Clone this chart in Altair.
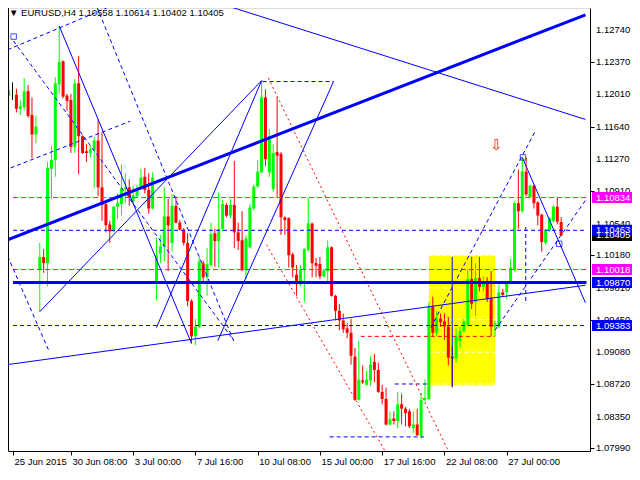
import altair as alt
import pandas as pd

# ---- candle data (EURUSD H4), bar index 0 = 25 Jun 2015 16:00 ----
O = [1.1199,1.1206,1.1200,1.1184,1.1186,1.1204,1.1177,1.1155,1.1002,1.1016,
     1.1009,1.1116,1.1126,1.1212,1.1238,1.1199,1.1194,1.1141,1.1213,1.1153,
     1.1136,1.1134,1.1137,1.1148,1.1095,1.1076,1.1053,1.1045,1.1073,1.1076,
     1.1093,1.1095,1.1079,1.1085,1.1094,1.1107,1.1092,1.1071,1.0988,1.1020,
     1.1028,1.1062,1.1032,1.1074,1.1055,1.1047,1.1032,1.0966,1.0926,1.0937,
     1.1009,1.0993,1.1007,1.1043,1.1034,1.1048,1.1075,1.1063,1.1075,1.1044,
     1.1035,1.1001,1.1027,1.1071,1.1096,1.1112,1.1197,1.1112,1.1093,1.1135,
     1.1133,1.1061,1.1060,1.1019,1.0996,1.0985,1.1002,1.1024,1.1054,1.1009,
     1.1008,1.0994,1.1000,1.1027,1.0972,1.0955,1.0944,1.0935,1.0930,1.0903,
     1.0854,1.0876,1.0871,1.0876,1.0897,1.0888,1.0863,1.0855,1.0826,1.0833,
     1.0830,1.0849,1.0844,1.0841,1.0822,1.0826,1.0813,1.0854,1.0855,1.0960,
     1.0930,1.0946,1.0943,1.0937,1.0903,1.0901,1.0921,1.0932,1.0939,1.0991,
     1.0965,1.0992,1.0982,1.0988,1.0970,1.0937,1.0937,1.0976,1.0976,1.0987,
     1.1001,1.1077,1.1068,1.1113,1.1084,1.1097,1.1078,1.1064,1.1032,1.1046,
     1.1057,1.1073,1.10558]
H = [1.1217,1.1214,1.1207,1.1194,1.1219,1.1211,1.1197,1.1176,1.1032,1.1025,
     1.1124,1.1142,1.1220,1.1278,1.1239,1.1201,1.1201,1.1218,1.1244,1.1154,
     1.1144,1.1142,1.1152,1.1172,1.1157,1.1077,1.1057,1.1074,1.1088,1.1121,
     1.1111,1.1104,1.1097,1.1098,1.1116,1.1117,1.1111,1.1112,1.1038,1.1041,
     1.1095,1.1082,1.1087,1.1085,1.1058,1.1049,1.1043,1.0968,1.0946,1.1016,
     1.1012,1.1026,1.1055,1.1048,1.1089,1.1081,1.1077,1.1082,1.1125,1.1055,
     1.1068,1.1041,1.1076,1.1098,1.1126,1.1216,1.1206,1.1161,1.1144,1.1197,
     1.1135,1.1062,1.1061,1.1021,1.1007,1.1007,1.1026,1.1083,1.1055,1.1015,
     1.1016,1.1003,1.1035,1.1028,1.0973,1.0963,1.0952,1.0941,1.0946,1.0913,
     1.0921,1.0893,1.0887,1.0903,1.0906,1.0896,1.0871,1.0868,1.0841,1.0841,
     1.0863,1.0861,1.0846,1.0844,1.0841,1.0844,1.0861,1.0877,1.0965,1.0971,
     1.0955,1.0952,1.0952,1.0948,1.0915,1.0935,1.0937,1.0946,1.1002,1.1016,
     1.1009,1.1016,1.0994,1.0993,1.1000,1.0944,1.0985,1.0980,1.0988,1.1014,
     1.1079,1.1115,1.1129,1.1129,1.1098,1.1098,1.1079,1.1065,1.1048,1.1061,
     1.1075,1.1083,1.10614]
L = [1.1177,1.1194,1.1180,1.1177,1.1182,1.1174,1.1128,1.1145,1.0954,1.0998,
     1.0983,1.1082,1.1107,1.1201,1.1196,1.1182,1.1134,1.1134,1.1110,1.1133,
     1.1124,1.1129,1.1094,1.1085,1.1057,1.1044,1.1032,1.1044,1.1059,1.1063,
     1.1077,1.1074,1.1076,1.1083,1.1093,1.1088,1.1065,1.1070,1.0967,1.1009,
     1.1011,1.1000,1.1022,1.1054,1.1046,1.1029,1.0960,1.0918,1.0916,1.0935,
     1.0988,1.0972,1.1005,1.1005,1.1004,1.1045,1.1061,1.1060,1.1026,1.1024,
     1.1000,1.0991,1.1026,1.1069,1.1095,1.1111,1.1119,1.1107,1.1090,1.1083,
     1.1041,1.1041,1.1004,1.0993,1.0972,1.0983,1.0965,1.1022,1.0993,1.0993,
     1.0991,1.0993,1.0987,1.0971,1.0944,1.0933,1.0930,1.0924,1.0894,1.0853,
     1.0853,1.0872,1.0870,1.0870,1.0874,1.0862,1.0849,1.0825,1.0825,1.0826,
     1.0822,1.0826,1.0824,1.0822,1.0816,1.0813,1.0810,1.0852,1.0854,1.0926,
     1.0926,1.0937,1.0922,1.0893,1.0868,1.0896,1.0913,1.0930,1.0937,1.0957,
     1.0949,1.0977,1.0977,1.0965,1.0926,1.0926,1.0935,1.0971,1.0968,1.0985,
     1.1000,1.1048,1.1066,1.1085,1.1083,1.1071,1.1052,1.1022,1.1030,1.1044,
     1.1055,1.1053,1.10402]
C = [1.1205,1.1206,1.1184,1.1187,1.1204,1.1176,1.1155,1.1164,1.1016,1.1009,
     1.1117,1.1126,1.1213,1.1237,1.1198,1.1193,1.1141,1.1213,1.1153,1.1134,
     1.1134,1.1138,1.1148,1.1095,1.1075,1.1052,1.1045,1.1073,1.1077,1.1094,
     1.1095,1.1083,1.1086,1.1094,1.1106,1.1092,1.1071,1.1106,1.1018,1.1028,
     1.1062,1.1052,1.1074,1.1055,1.1047,1.1032,1.0966,1.0926,1.0937,1.1011,
     1.0993,1.1008,1.1042,1.1034,1.1048,1.1076,1.1063,1.1075,1.1044,1.1034,
     1.1001,1.1037,1.1072,1.1096,1.1113,1.1197,1.1127,1.1153,1.1134,1.1131,
     1.1061,1.1058,1.1018,1.1004,1.0985,1.1002,1.1025,1.1054,1.1009,1.1006,
     1.0994,1.1001,1.1027,1.0972,1.0955,1.0944,1.0934,1.0930,1.0904,1.0854,
     1.0877,1.0874,1.0877,1.0894,1.0888,1.0863,1.0855,1.0826,1.0832,1.0830,
     1.0849,1.0844,1.0839,1.0824,1.0826,1.0814,1.0854,1.0856,1.0960,1.0930,
     1.0946,1.0942,1.0937,1.0902,1.0901,1.0926,1.0932,1.0943,1.0991,1.0963,
     1.0992,1.0982,1.0988,1.0968,1.0937,1.0941,1.0976,1.0973,1.0987,1.1004,
     1.1077,1.1068,1.1113,1.1087,1.1097,1.1077,1.1063,1.1033,1.1047,1.1060,
     1.1073,1.1056,1.10405]

tick_bars = [1.125, 16, 32, 48, 64, 80, 96, 112, 128]
tick_labels = ["25 Jun 2015", "30 Jun 08:00", "3 Jul 00:00", "7 Jul 16:00",
               "10 Jul 08:00", "15 Jul 00:00", "17 Jul 16:00", "22 Jul 08:00",
               "27 Jul 00:00"]
price_ticks = [1.12740, 1.12370, 1.12010, 1.11640, 1.11270, 1.10910, 1.10540,
               1.10180, 1.09810, 1.09450, 1.09080, 1.08720, 1.08350, 1.07990]

# price tags on the right scale
tag_prices = [1.10834, 1.10018, 1.09870, 1.09383, 1.10405, 1.10463]
tag_colors = ["#ff00ff", "#ff00ff", "#0000ff", "#0000ff", "#000000", "#0000ff"]

# drawn objects: (kind, bar1, price1, bar2, price2)
segments = [
    ("thick", -0.25, 1.10356, 148.25, 1.12907),
    ("thick", 1.125, 1.09870, 148.5, 1.09870),
    ("thin", 8, 1.0954, 65, 1.1216),
    ("thin", 13, 1.1278, 47, 1.0918),
    ("thin", 38, 1.0936, 65, 1.1216),
    ("thin", 53.75, 1.0921, 83.5, 1.1215),
    ("thin", -0.25, 1.0894, 148.25, 1.0984),
    ("thin", 52.5, 1.1306, 148.25, 1.1172),
    ("thin", 132, 1.1129, 148.25, 1.0964),
    ("thin", 114, 1.1016, 114, 1.0869),
    ("dash", 1.125, 1.10463, 148.5, 1.10463),
    ("dash", 1.125, 1.09383, 148.5, 1.09383),
    ("dash", 65.25, 1.1215, 83.5, 1.1215),
    ("dash", -0.25, 1.1251, 29.75, 1.1307),
    ("dash", 22, 1.1307, 58, 1.0919),
    ("dash", 0.5, 1.1117, 31.25, 1.1170),
    ("dash", -0.25, 1.1017, 10.5, 1.0908),
    ("dash", 1.25, 1.1261, 57.25, 1.0925),
    ("dash", 108.5, 1.0936, 135.5, 1.1160),
    ("dash", 125, 1.0933, 148.5, 1.1082),
    ("dash", 132.9, 1.1050, 132.9, 1.0964),
    ("dash", 82.5, 1.0812, 106.75, 1.0812),
    ("dash", 99.25, 1.0872, 108, 1.0872),
    ("magenta", 1.125, 1.10834, 148.5, 1.10834),
    ("magenta", 1.125, 1.10018, 148.5, 1.10018),
    ("reddot", 66.75, 1.1219, 113, 1.0796),
    ("reddot", 66.25, 1.1030, 96.75, 1.0796),
    ("reddash", 90.5, 1.0926, 125, 1.0926),
    ("white", 108, 1.1018, 125, 1.1018),
    ("white", 108, 1.0981, 125, 1.0981),
    ("white", 108, 1.0945, 125, 1.0945),
    ("white", 108, 1.0908, 125, 1.0908),
    ("white", 108, 1.0872, 125, 1.0872),
]
zone = [(108, 1.10179, 125, 1.08703)]
markers = [(1.3, 1.1266), (132.2, 1.1129), (141.5, 1.1031)]
sell_arrow = [(125.4, 1.1143)]

FONT = "Liberation Sans"
FS = 9.5
W, HGT = 582, 443

df = pd.DataFrame({"bar": list(range(len(O))), "o": O, "h": H, "l": L, "c": C})
df["dir"] = ["up" if c > o else ("down" if c < o else "doji") for o, c in zip(O, C)]
seg = pd.DataFrame(segments, columns=["kind", "x1", "y1", "x2", "y2"])
zdf = pd.DataFrame(zone, columns=["x1", "y1", "x2", "y2"])
mdf = pd.DataFrame(markers, columns=["x", "y"])
adf = pd.DataFrame(sell_arrow, columns=["x", "y"])
tdf = pd.DataFrame({"p": tag_prices, "col": tag_colors,
                    "txt": [f"{p:.5f}" for p in tag_prices]})
tdf["order"] = list(range(len(tdf)))
pdf = pd.DataFrame({"p": price_ticks, "txt": [f"{p:.5f}" for p in price_ticks]})

xs = alt.Scale(domain=[1.125, 148.125], nice=False, zero=False)
ys = alt.Scale(domain=[1.07960, 1.12984], nice=False, zero=False)

label_expr = "[" + ",".join(f"'{t}'" for t in tick_labels) + "][round(datum.value/16)]"
x_axis = alt.Axis(values=tick_bars, labelExpr=label_expr, title=None, grid=False,
                  orient="bottom", tickSize=4, tickColor="black", domainColor="black",
                  labelAlign="left", labelBaseline="top", labelPadding=1, labelOffset=1,
                  labelFont=FONT, labelFontSize=FS, labelColor="black", labelOverlap=False,
                  labelFlush=False)
y_axis = alt.Axis(values=price_ticks, orient="right", title=None, grid=False, labels=False,
                  tickSize=4, tickColor="black", domainColor="black")

zone_layer = alt.Chart(zdf).mark_rect(color="#ffff00").encode(
    x=alt.X("x1:Q", scale=xs, axis=x_axis), x2="x2:Q",
    y=alt.Y("y1:Q", scale=ys, axis=y_axis), y2="y2:Q")

def seg_layer(kind, **kw):
    return alt.Chart(seg).transform_filter(alt.datum.kind == kind).mark_rule(clip=True, **kw).encode(
        x=alt.X("x1:Q", scale=xs), x2="x2:Q", y=alt.Y("y1:Q", scale=ys), y2="y2:Q")

color = alt.Color("dir:N", scale=alt.Scale(domain=["up", "down", "doji"],
                                           range=["#00ff00", "#ff0000", "#000000"]), legend=None)
wicks = alt.Chart(df).mark_rule(strokeWidth=1, clip=True).encode(
    x=alt.X("bar:Q", scale=xs), y=alt.Y("l:Q", scale=ys), y2="h:Q", color=color)
bodies = alt.Chart(df).mark_bar(size=3, clip=True).encode(
    x=alt.X("bar:Q", scale=xs), y=alt.Y("o:Q", scale=ys), y2="c:Q", color=color)

squares = alt.Chart(mdf).mark_point(shape="square", size=30, color="#0000ff", strokeWidth=1,
                                    filled=False).encode(
    x=alt.X("x:Q", scale=xs), y=alt.Y("y:Q", scale=ys))
arrow = alt.Chart(adf).mark_text(text="⇩", fontSize=15, color="#ff2200", font="DejaVu Sans").encode(
    x=alt.X("x:Q", scale=xs), y=alt.Y("y:Q", scale=ys))

price_labels = alt.Chart(pdf).mark_text(align="left", baseline="middle", color="black",
                                        font=FONT, fontSize=FS).encode(
    x=alt.value(W + 6), y=alt.Y("p:Q", scale=ys), text="txt:N")
tags = alt.Chart(tdf).mark_point(shape="M0,-0.275H2V0.275H0Z", size=1600, filled=True,
                                 opacity=1, strokeWidth=0).encode(
    x=alt.value(W + 2), y=alt.Y("p:Q", scale=ys),
    color=alt.Color("col:N", scale=None), order="order:Q")
tag_text = alt.Chart(tdf).mark_text(align="left", baseline="middle", color="white",
                                    font=FONT, fontSize=FS).encode(
    x=alt.value(W + 6), y=alt.Y("p:Q", scale=ys), text="txt:N", order="order:Q")

left_edge = alt.Chart(zdf).mark_rule(color="black").encode(
    x=alt.value(0.5), y=alt.value(0), y2=alt.value(HGT))
header = alt.Chart(zdf).mark_text(align="left", baseline="top", font=FONT, fontSize=FS,
                                  color="black",
                                  text="▼  EURUSD,H4  1.10558 1.10614 1.10402 1.10405").encode(
    x=alt.value(1), y=alt.value(0))

chart = alt.layer(
    zone_layer,
    seg_layer("white", color="white", strokeDash=[4, 3]),
    wicks, bodies,
    seg_layer("magenta", color="#ff00ff", strokeDash=[5, 3]),
    seg_layer("dash", color="#0000ff", strokeDash=[4, 3]),
    seg_layer("reddot", color="#ff0000", strokeDash=[2, 3]),
    seg_layer("reddash", color="#ff0000", strokeDash=[4, 3]),
    seg_layer("thin", color="#0000ff", strokeWidth=1),
    seg_layer("thick", color="#0000ff", strokeWidth=3),
    squares, arrow, left_edge, header,
    price_labels, tags, tag_text,
).properties(
    width=W, height=HGT,
    padding={"left": 0, "top": 0, "right": 42, "bottom": 16},
    autosize="none",
).configure_view(stroke=None).configure(background="white")

chart.save("out.html", embed_options={"renderer": "svg", "actions": False})
